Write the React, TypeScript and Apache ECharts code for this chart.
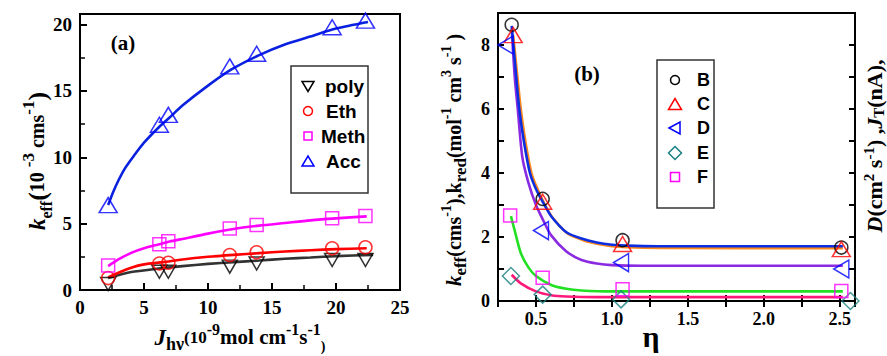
import React, { useEffect, useRef } from "react";
import * as echarts from "echarts";

// ---------- Panel (a) data ----------
const aX = [2.2, 6.2, 6.9, 11.7, 13.8, 19.7, 22.3];
const aPoly = [0.45, 1.38, 1.38, 1.76, 2.0, 2.26, 2.26];
const aEth = [0.9, 2.0, 2.05, 2.64, 2.84, 3.14, 3.22];
const aMeth = [1.85, 3.45, 3.67, 4.63, 4.9, 5.4, 5.58];
const aAcc = [6.4, 12.45, 13.2, 16.85, 17.8, 19.8, 20.3];

const fitPolyX = [2.2, 4, 6, 8, 10, 12, 14, 16, 18, 20, 22.9];
const fitPolyY = [0.9, 1.35, 1.6, 1.8, 1.97, 2.1, 2.22, 2.35, 2.45, 2.55, 2.65];
const fitEthX = [2.2, 3, 4, 5, 6.5, 8, 10, 12, 14, 16, 18, 20, 22.4];
const fitEthY = [0.95, 1.3, 1.68, 1.93, 2.1, 2.3, 2.5, 2.65, 2.78, 2.9, 3.0, 3.08, 3.15];
const fitMethX = [2.2, 3, 4, 5, 6.2, 7, 8, 10, 12, 14, 16, 18, 20, 22.4];
const fitMethY = [1.8, 2.3, 2.8, 3.15, 3.45, 3.65, 3.85, 4.25, 4.6, 4.85, 5.05, 5.25, 5.4, 5.55];
const fitAccX = [2.2, 2.6, 3.0, 3.5, 4.2, 5, 6.2, 7, 8, 10, 11.8, 14, 16, 18, 20, 22.5];
const fitAccY = [6.4, 7.4, 8.25, 9.15, 10.1, 11.1, 12.3, 13.0, 13.9, 15.4, 16.6, 17.7, 18.5, 19.1, 19.7, 20.2];

// ---------- Panel (b) data ----------
const bBX = [0.34, 0.544, 1.07, 2.51];
const bBY = [8.63, 3.19, 1.9, 1.67];
const bCX = [0.35, 0.544, 1.07, 2.51];
const bCY = [8.31, 3.1, 1.78, 1.62];
const bDX = [0.3, 0.533, 1.06, 2.51];
const bDY = [8.0, 2.2, 1.2, 1.0];
const bEX = [0.335, 0.544, 1.06, 2.57];
const bEY = [0.78, 0.2, 0.05, 0.0];
const bFX = [0.33, 0.544, 1.07, 2.51];
const bFY = [2.67, 0.73, 0.37, 0.31];

const fitBlueX = [0.34, 0.37, 0.39, 0.42, 0.46, 0.5, 0.55, 0.6, 0.7, 0.8, 0.9, 1.0, 1.1, 1.3, 2.52];
const fitBlueY = [8.6, 7.0, 6.0, 5.0, 4.0, 3.5, 3.05, 2.65, 2.15, 1.95, 1.83, 1.76, 1.73, 1.71, 1.71];
const fitOrangeX = [0.35, 0.38, 0.4, 0.43, 0.47, 0.51, 0.56, 0.61, 0.71, 0.81, 0.91, 1.0, 1.1, 1.3, 2.52];
const fitOrangeY = [8.3, 6.9, 6.0, 5.0, 4.0, 3.5, 3.0, 2.6, 2.1, 1.9, 1.78, 1.71, 1.68, 1.66, 1.65];
const fitPurpleX = [0.34, 0.36, 0.38, 0.41, 0.45, 0.5, 0.55, 0.6, 0.7, 0.8, 0.9, 1.0, 1.2, 2.52];
const fitPurpleY = [8.5, 7.0, 6.0, 4.5, 3.7, 3.0, 2.5, 2.05, 1.55, 1.28, 1.17, 1.12, 1.1, 1.1];
const fitGreenX = [0.335, 0.36, 0.4, 0.45, 0.5, 0.6, 0.7, 0.8, 1.0, 2.52];
const fitGreenY = [2.65, 2.2, 1.5, 1.05, 0.78, 0.5, 0.38, 0.33, 0.3, 0.3];
const fitPinkX = [0.34, 0.4, 0.5, 0.6, 0.7, 0.9, 2.52];
const fitPinkY = [0.82, 0.55, 0.3, 0.18, 0.14, 0.12, 0.12];

const xTicksB = [0.5, 1.0, 1.5, 2.0, 2.5];
const yTicksB = [0, 2, 4, 6, 8];
const yTicksA = [0, 5, 10, 15, 20];

const legendA = ["poly", "Eth", "Meth", "Acc"];
const legendB = ["B", "C", "D", "E", "F"];

const zip = (xs: number[], ys: number[]) => xs.map((x, i) => [x, ys[i]]);

const SERIF = "'Liberation Serif', 'Times New Roman', serif";
const SANS = "'Liberation Sans', Arial, sans-serif";

export default function App() {
  const ref = useRef<HTMLDivElement>(null);
  useEffect(() => {
    if (!ref.current) return;
    const chart = echarts.init(ref.current, null, { renderer: "svg" });

    const labelStyle = {
      fontFamily: SERIF,
      fontWeight: "bold" as const,
      fontSize: 18,
      color: "#000",
    };

    const tickInside = (len: number) => ({
      show: true,
      inside: true,
      length: len,
      lineStyle: { color: "#000", width: 2 },
    });

    const hollow = (c: string, w = 1.5) => ({
      color: "rgba(255,255,255,0)",
      borderColor: c,
      borderWidth: w,
    });

    const fitLine = (name: string, xi: number, data: number[][], color: string, width = 2.6) => ({
      name,
      type: "line",
      xAxisIndex: xi,
      yAxisIndex: xi === 0 ? 0 : 1,
      data,
      smooth: 0.25,
      showSymbol: false,
      symbol: "none",
      lineStyle: { color, width },
      z: 2,
      silent: true,
    });

    const scatter = (
      name: string,
      xi: number,
      data: number[][],
      symbol: string,
      size: number | number[],
      color: string,
      rotate = 0
    ) => ({
      name,
      type: "scatter",
      xAxisIndex: xi,
      yAxisIndex: xi === 0 ? 0 : 1,
      data,
      symbol,
      symbolSize: size,
      symbolRotate: rotate,
      itemStyle: hollow(color),
      z: 3,
    });

    const legendText = (txt: string, x: number, y: number, size: number) => ({
      type: "text",
      x,
      y,
      z: 10,
      style: { text: txt, font: `bold ${size}px ${SANS}`, fill: "#000", align: "left", verticalAlign: "middle" },
    });
    const stroke = (c: string) => ({ fill: "rgba(255,255,255,0)", stroke: c, lineWidth: 1.5 });

    const rowsA = [86, 111, 136, 161];
    const rowsB = [80, 104, 128, 153, 177];

    const option: any = {
      animation: false,
      backgroundColor: "#fff",
      grid: [
        { left: 80, top: 14, width: 320, height: 276, show: true, borderColor: "#000", borderWidth: 2, backgroundColor: "transparent" },
        { left: 498, top: 13, width: 357, height: 288, show: true, borderColor: "#000", borderWidth: 2, backgroundColor: "transparent" },
      ],
      xAxis: [
        {
          type: "value",
          gridIndex: 0,
          min: 0,
          max: 25,
          interval: 5,
          axisLine: { show: true, lineStyle: { color: "#000", width: 2 } },
          axisTick: tickInside(7),
          minorTick: { show: true, splitNumber: 2, length: 5, lineStyle: { color: "#000", width: 1.5 } },
          splitLine: { show: false },
          axisLabel: { ...labelStyle, fontSize: 19, margin: 8, formatter: (v: number) => String(v) },
        },
        {
          type: "value",
          gridIndex: 1,
          min: 0.25,
          max: 2.6,
          interval: 0.25,
          axisLine: { show: true, lineStyle: { color: "#000", width: 2 } },
          axisTick: tickInside(6),
          splitLine: { show: false },
          axisLabel: {
            ...labelStyle,
            margin: 9,
            showMaxLabel: false,
            formatter: (v: number) => {
              const t = xTicksB.find((q) => Math.abs(q - v) < 1e-6);
              return t !== undefined ? t.toFixed(1) : "";
            },
          },
        },
        {
          type: "value",
          gridIndex: 1,
          position: "top",
          min: 0.25,
          max: 2.6,
          interval: 0.25,
          axisLine: { show: false },
          axisTick: tickInside(6),
          splitLine: { show: false },
          axisLabel: { show: false },
        },
      ],
      yAxis: [
        {
          type: "value",
          gridIndex: 0,
          min: 0,
          max: 20.8,
          interval: 5,
          axisLine: { show: true, lineStyle: { color: "#000", width: 2 } },
          axisTick: tickInside(7),
          minorTick: { show: true, splitNumber: 2, length: 5, lineStyle: { color: "#000", width: 1.5 } },
          splitLine: { show: false },
          axisLabel: {
            ...labelStyle,
            fontSize: 19,
            margin: 8,
            showMaxLabel: false,
            formatter: (v: number) => (yTicksA.includes(v) ? String(v) : ""),
          },
        },
        {
          type: "value",
          gridIndex: 1,
          min: 0,
          max: 9,
          interval: 1,
          axisLine: { show: true, lineStyle: { color: "#000", width: 2 } },
          axisTick: tickInside(6),
          splitLine: { show: false },
          axisLabel: {
            ...labelStyle,
            margin: 8,
            showMaxLabel: false,
            formatter: (v: number) => (yTicksB.includes(v) ? String(v) : ""),
          },
        },
        {
          type: "value",
          gridIndex: 1,
          position: "right",
          min: 0,
          max: 9,
          interval: 1,
          axisLine: { show: false },
          axisTick: tickInside(6),
          splitLine: { show: false },
          axisLabel: { show: false },
        },
      ],
      series: [
        // panel a fits
        fitLine("fitPoly", 0, zip(fitPolyX, fitPolyY), "#333333"),
        fitLine("fitEth", 0, zip(fitEthX, fitEthY), "#ff0000"),
        fitLine("fitMeth", 0, zip(fitMethX, fitMethY), "#ff00ff"),
        fitLine("fitAcc", 0, zip(fitAccX, fitAccY), "#0a22e0"),
        // panel a points
        scatter(legendA[0], 0, zip(aX, aPoly), "triangle", [15, 13], "#000000", 180),
        scatter(legendA[1], 0, zip(aX, aEth), "circle", 13, "#ff0000"),
        scatter(legendA[2], 0, zip(aX, aMeth), "rect", 13, "#ff00ff"),
        scatter(legendA[3], 0, zip(aX, aAcc), "triangle", [18, 15], "#0000ff"),
        // panel b fits
        fitLine("fitPink", 1, zip(fitPinkX, fitPinkY), "#ff1a7a"),
        fitLine("fitGreen", 1, zip(fitGreenX, fitGreenY), "#22e022"),
        fitLine("fitPurple", 1, zip(fitPurpleX, fitPurpleY), "#8a2be2"),
        fitLine("fitOrange", 1, zip(fitOrangeX, fitOrangeY), "#ff8a1a"),
        fitLine("fitBlue", 1, zip(fitBlueX, fitBlueY), "#0a2ee0"),
        // panel b points
        scatter(legendB[0], 1, zip(bBX, bBY), "circle", 13, "#000000"),
        scatter(legendB[1], 1, zip(bCX, bCY), "triangle", [18, 15], "#ff0000"),
        scatter(legendB[2], 1, zip(bDX, bDY), "triangle", [18, 15], "#0000ff", 90),
        scatter(legendB[3], 1, zip(bEX, bEY), "diamond", [17, 17], "#1a8080"),
        scatter(legendB[4], 1, zip(bFX, bFY), "rect", 13, "#ff00ff"),
      ],
      graphic: [
        // legend (a)
        { type: "rect", z: 10, shape: { x: 291, y: 66, width: 77, height: 127 }, style: { fill: "#fff", stroke: "#333", lineWidth: 1.5 } },
        { type: "polygon", z: 11, shape: { points: [[302, 81.5], [314, 81.5], [308, 91.5]] }, style: stroke("#000") },
        { type: "circle", z: 11, shape: { cx: 308, cy: rowsA[1], r: 4.5 }, style: stroke("#ff0000") },
        { type: "rect", z: 11, shape: { x: 304, y: rowsA[2] - 4, width: 8, height: 8 }, style: stroke("#ff00ff") },
        { type: "polygon", z: 11, shape: { points: [[302, 166], [314, 166], [308, 156]] }, style: stroke("#0000ff") },
        legendText(legendA[0], 325, rowsA[0], 19),
        legendText(legendA[1], 326, rowsA[1], 19),
        legendText(legendA[2], 321, rowsA[2], 19),
        legendText(legendA[3], 326, rowsA[3], 19),
        // legend (b)
        { type: "rect", z: 10, shape: { x: 657, y: 60, width: 57, height: 148 }, style: { fill: "#fff", stroke: "#333", lineWidth: 1.5 } },
        { type: "circle", z: 11, shape: { cx: 675, cy: rowsB[0], r: 4.5 }, style: stroke("#000") },
        { type: "polygon", z: 11, shape: { points: [[668.5, 109.5], [681.5, 109.5], [675, 98.5]] }, style: stroke("#ff0000") },
        { type: "polygon", z: 11, shape: { points: [[669, 128], [680, 122], [680, 134]] }, style: stroke("#0000ff") },
        { type: "polygon", z: 11, shape: { points: [[675, 146.5], [681.5, 153], [675, 159.5], [668.5, 153]] }, style: stroke("#1a8080") },
        { type: "rect", z: 11, shape: { x: 670.5, y: 172.5, width: 9, height: 9 }, style: stroke("#ff00ff") },
        ...legendB.map((t, i) => legendText(t, 697, rowsB[i], 18)),
        // panel tags
        {
          type: "text",
          x: 123,
          y: 43,
          style: { text: "(a)", font: `bold 21px ${SERIF}`, fill: "#000", align: "center", verticalAlign: "middle" },
        },
        {
          type: "text",
          x: 587,
          y: 74,
          style: { text: "(b)", font: `bold 21px ${SERIF}`, fill: "#000", align: "center", verticalAlign: "middle" },
        },
        {
          type: "text",
          x: 651,
          y: 336,
          style: { text: "η", font: `bold 30px ${SERIF}`, fill: "#000", align: "center", verticalAlign: "middle" },
        },
        // y label panel a
        {
          type: "text",
          x: 37,
          y: 161,
          rotation: Math.PI / 2,
          style: {
            text: "{k|k}{sub|eff}{p|(}{m|10 }{sup|-3}{m| cms}{sup|-1}{p|)}",
            align: "center",
            verticalAlign: "middle",
            fill: "#000",
            rich: {
              k: { font: `italic bold 23px ${SERIF}`, lineHeight: 34, verticalAlign: "middle", fill: "#000" },
              sub: { font: `bold 16px ${SERIF}`, lineHeight: 19, verticalAlign: "bottom", fill: "#000" },
              p: { font: `bold 26px ${SERIF}`, lineHeight: 34, verticalAlign: "middle", fill: "#000" },
              m: { font: `bold 20px ${SERIF}`, lineHeight: 34, verticalAlign: "middle", fill: "#000" },
              sup: { font: `bold 17px ${SERIF}`, lineHeight: 17, verticalAlign: "top", fill: "#000" },
            },
          },
        },
        // x label panel a
        {
          type: "text",
          x: 240,
          y: 337,
          style: {
            text: "{J|J}{sub|hν}{s|(10}{sup|-9}{m|mol cm}{sup|-1}{m|s}{sup|-1}{sub2|)}",
            align: "center",
            verticalAlign: "middle",
            fill: "#000",
            rich: {
              J: { font: `italic bold 23px ${SERIF}`, lineHeight: 32, verticalAlign: "middle", fill: "#000" },
              sub: { font: `bold 18px ${SERIF}`, lineHeight: 19, verticalAlign: "bottom", fill: "#000" },
              s: { font: `bold 17px ${SERIF}`, lineHeight: 30, verticalAlign: "middle", fill: "#000" },
              m: { font: `bold 21px ${SERIF}`, lineHeight: 32, verticalAlign: "middle", fill: "#000" },
              sup: { font: `bold 16px ${SERIF}`, lineHeight: 17, verticalAlign: "top", fill: "#000" },
              sub2: { font: `bold 14px ${SERIF}`, lineHeight: 15, verticalAlign: "bottom", fill: "#000" },
            },
          },
        },
        // y label panel b (left)
        {
          type: "text",
          x: 454,
          y: 160,
          rotation: Math.PI / 2,
          style: {
            text: "{k|k}{sub|eff}{m|(cms}{sup|-1}{m|),k}{sub|red}{m|(mol}{sup|-1}{m| cm}{sup|3}{m| s}{sup|-1}{m| )}",
            align: "center",
            verticalAlign: "middle",
            fill: "#000",
            rich: {
              k: { font: `italic bold 21px ${SERIF}`, lineHeight: 30, verticalAlign: "middle", fill: "#000" },
              sub: { font: `bold 17px ${SERIF}`, lineHeight: 24, verticalAlign: "bottom", fill: "#000" },
              m: { font: `bold 20px ${SERIF}`, lineHeight: 30, verticalAlign: "middle", fill: "#000" },
              sup: { font: `bold 14px ${SERIF}`, lineHeight: 15, verticalAlign: "top", fill: "#000" },
            },
          },
        },
        // y label panel b (right)
        {
          type: "text",
          x: 874,
          y: 146,
          rotation: Math.PI / 2,
          style: {
            text: "{D|D}{m|(cm}{sup|2}{m| s}{sup|-1}{m|) ,}{D|J}{sub|T}{m|(nA),}",
            align: "center",
            verticalAlign: "middle",
            fill: "#000",
            rich: {
              D: { font: `italic bold 22px ${SERIF}`, lineHeight: 25, verticalAlign: "middle", fill: "#000" },
              m: { font: `bold 22px ${SERIF}`, lineHeight: 25, verticalAlign: "middle", fill: "#000" },
              sup: { font: `bold 15px ${SERIF}`, lineHeight: 14, verticalAlign: "top", fill: "#000" },
              sub: { font: `bold 15px ${SERIF}`, lineHeight: 15, verticalAlign: "bottom", fill: "#000" },
            },
          },
        },
      ],
    };

    chart.setOption(option);
    return () => chart.dispose();
  }, []);

  return (
    <div
      ref={ref}
      style={{ position: "absolute", left: 0, top: 0, width: 887, height: 356, background: "#fff" }}
    />
  );
}
